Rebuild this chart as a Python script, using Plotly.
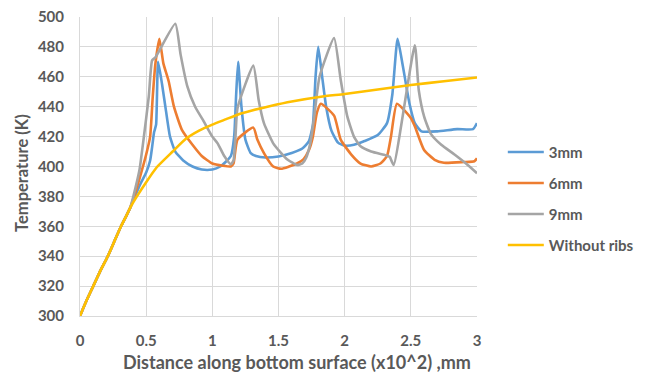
import plotly.graph_objects as go

# Shared start of every curve (all follow the same warm-up before the first rib)
base_x = [0, 0.05, 0.1, 0.15, 0.21, 0.26, 0.31, 0.35, 0.38]
base_t = [300, 310.5, 320, 329.5, 340, 350, 360, 367, 372.5]

# 3 mm ribs
x_3mm = base_x + [0.42, 0.46, 0.50, 0.53, 0.545, 0.56, 0.575, 0.59, 0.62, 0.65, 0.68, 0.72,
                  0.78, 0.85, 0.92, 1.0, 1.06, 1.1, 1.14, 1.165, 1.18, 1.195, 1.22, 1.25,
                  1.29, 1.33, 1.4, 1.5, 1.6, 1.68, 1.73, 1.76, 1.78, 1.80, 1.83, 1.86, 1.9,
                  1.95, 2.0, 2.07, 2.15, 2.25, 2.32, 2.36, 2.40, 2.44, 2.49, 2.53, 2.58,
                  2.7, 2.85, 2.97, 3.0]
t_3mm = base_t + [381, 389, 396, 404, 413, 423, 428, 470, 455, 437, 420, 410,
                  404, 400, 398, 398, 400, 403, 407, 420, 448, 470, 440, 418,
                  409, 407, 406, 406.7, 409, 412, 417, 428, 460, 480, 460, 440, 424,
                  416, 414, 414.5, 417, 421, 429, 448, 485.5, 467, 442, 429, 423.5,
                  423.5, 425, 425, 429]

# 6 mm ribs
x_6mm = base_x + [0.42, 0.46, 0.50, 0.53, 0.55, 0.57, 0.60, 0.63, 0.67, 0.71, 0.77, 0.85,
                  0.92, 1.0, 1.08, 1.14, 1.16, 1.19, 1.31, 1.34, 1.39, 1.46, 1.52, 1.58,
                  1.64, 1.69, 1.73, 1.76, 1.79, 1.82, 1.92, 1.97, 2.05, 2.12, 2.2, 2.27,
                  2.32, 2.35, 2.395, 2.5, 2.53, 2.6, 2.68, 2.75, 2.9, 2.98, 3.0]
t_6mm = base_t + [383, 395, 408, 420, 447, 469, 485.5, 469, 457, 440, 424.5, 414.5,
                  407, 402, 400.5, 400, 402, 418, 426, 418, 409, 400, 398.5, 400,
                  402, 405, 411, 420, 436, 442, 434, 418, 408, 402, 400, 402,
                  407, 420, 442, 432.5, 427, 411, 404.5, 402.5, 403, 403.5, 405.5]

# 9 mm ribs
x_9mm = base_x + [0.42, 0.45, 0.48, 0.52, 0.545, 0.57, 0.72, 0.76, 0.81, 0.87, 0.93, 1.0,
                  1.04, 1.09, 1.14, 1.16, 1.175, 1.19, 1.31, 1.35, 1.39, 1.46, 1.52, 1.57,
                  1.64, 1.68, 1.71, 1.74, 1.77, 1.81, 1.92, 1.97, 2.02, 2.07, 2.12, 2.2,
                  2.31, 2.34, 2.37, 2.53, 2.56, 2.6, 2.65, 2.73, 2.83, 2.93, 3.0]
t_9mm = base_t + [386, 398, 418, 447, 471, 473, 495.5, 475, 454, 440, 431, 420,
                  415.5, 407, 401.5, 404, 420, 439, 467.5, 444.5, 429, 415.5, 409, 404.5,
                  401, 402, 406, 415.5, 433.5, 460, 486, 458, 433.5, 420, 413.5, 410,
                  407.5, 406.5, 401, 481, 451, 433.5, 422, 414.5, 408, 401, 395.5]

# Plain surface without ribs
x_plain = base_x + [0.43, 0.5, 0.58, 0.7, 0.8, 0.9, 1.0, 1.1, 1.2, 1.3, 1.44, 1.6, 1.82,
                    2.0, 2.25, 2.5, 2.75, 3.0]
t_plain = base_t + [380, 389.5, 399.5, 410, 418.5, 424, 428, 431.5, 435, 437.5, 440.5,
                    443.5, 446.7, 448.5, 451.5, 454.5, 457, 459.5]

series = [
    ("3mm", x_3mm, t_3mm, "#5B9BD5"),
    ("6mm", x_6mm, t_6mm, "#ED7D31"),
    ("9mm", x_9mm, t_9mm, "#A5A5A5"),
    ("Without ribs", x_plain, t_plain, "#FFC000"),
]

x_ticks = [0, 0.5, 1, 1.5, 2, 2.5, 3]
x_tick_text = ["0", "0.5", "1", "1.5", "2", "2.5", "3"]
y_ticks = list(range(300, 501, 20))

x_title = "Distance along bottom surface (x10^2) ,mm"
y_title = "Temperature (K)"

FONT = "Lato"
TEXT = "#595959"
GRID = "#D9D9D9"

fig = go.Figure()
for name, xs, ts, color in series:
    fig.add_trace(go.Scatter(
        x=xs, y=ts, name=name, mode="lines", legendgroup=name,
        line=dict(color=color, width=2.6, shape="spline", smoothing=0.5),
    ))

fig.update_layout(
    width=652, height=376,
    margin=dict(l=80, r=175, t=17, b=60, autoexpand=False),
    paper_bgcolor="white", plot_bgcolor="white",
    font=dict(family=FONT, color=TEXT, size=14),
    showlegend=True,
    legend=dict(
        x=1.065, y=0.603, xanchor="left", yanchor="top",
        font=dict(family=FONT, size=15, color=TEXT, weight="bold"),
        tracegroupgap=8.5, itemwidth=36, bgcolor="rgba(0,0,0,0)",
    ),
    annotations=[
        dict(text=x_title, xref="paper", yref="paper", x=0.547, y=-0.155,
             xanchor="center", yanchor="middle", showarrow=False,
             font=dict(family=FONT, size=18, color=TEXT, weight="bold")),
        dict(text=y_title, xref="paper", yref="paper", x=-0.145, y=0.48,
             xanchor="center", yanchor="middle", showarrow=False, textangle=-90,
             font=dict(family=FONT, size=16.5, color=TEXT, weight="bold")),
    ],
)
fig.update_xaxes(
    range=[0, 3], tickvals=x_ticks, ticktext=x_tick_text, automargin=False,
    showgrid=True, gridcolor=GRID, gridwidth=1,
    showline=True, linecolor=GRID, linewidth=1, zeroline=False,
    ticks="", ticklabelstandoff=11,
    tickfont=dict(family=FONT, size=15, color=TEXT, weight="bold"),
)
fig.update_yaxes(
    range=[300, 500], tickvals=y_ticks, automargin=False,
    showgrid=True, gridcolor=GRID, gridwidth=1,
    showline=True, linecolor=GRID, linewidth=1, zeroline=False,
    ticks="", ticklabelstandoff=12,
    tickfont=dict(family=FONT, size=15, color=TEXT, weight="bold"),
)

fig.write_html("out.html")
